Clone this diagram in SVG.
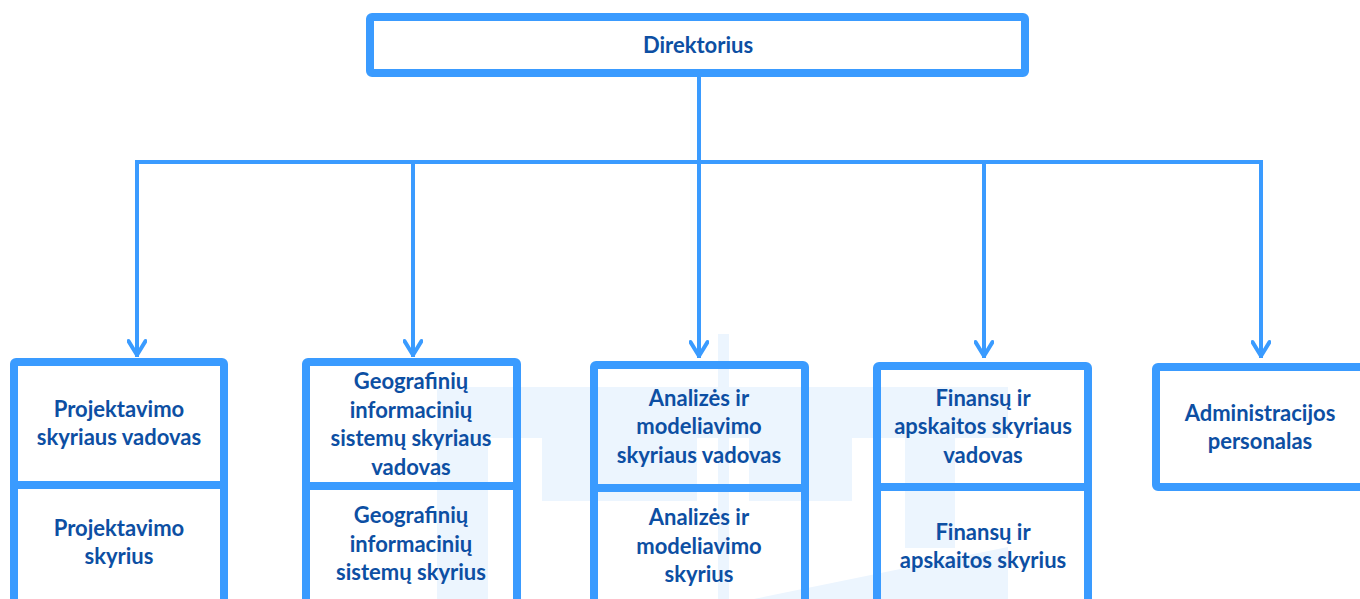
<svg xmlns="http://www.w3.org/2000/svg" width="1360" height="599" viewBox="0 0 1360 599">
<defs>
<style>
.box{fill:none;stroke:#3a9bff;stroke-width:8;stroke-linejoin:round}
.div{stroke:#3a9bff;stroke-width:8}
.wire{fill:none;stroke:#3a9bff;stroke-width:4;stroke-linecap:square}
.wm{fill:#ecf5fe}
text{font-family:Lato,"Open Sans","Liberation Sans",sans-serif;font-weight:700;font-size:22px;fill:#0d4fa3;text-anchor:middle}
</style>
<marker id="arr" viewBox="0 0 20 20" refX="17" refY="10" markerWidth="20" markerHeight="20" markerUnits="userSpaceOnUse" orient="auto">
<path d="M3,1.5 L17,10 L3,18.5" fill="none" stroke="#3a9bff" stroke-width="4" stroke-linecap="round" stroke-linejoin="round"/>
</marker>
</defs>
<rect width="1360" height="599" fill="#ffffff"/>
<g id="watermark">
<rect class="wm" x="437" y="387" width="51" height="212"/>
<rect class="wm" x="437" y="387" width="571" height="51"/>
<rect class="wm" x="542" y="438" width="155" height="63"/>
<rect class="wm" x="749" y="438" width="103" height="63"/>
<rect class="wm" x="905" y="438" width="50" height="110"/>
<rect class="wm" x="718" y="334" width="11" height="265"/>
<polygon class="wm" points="754,599 1008,547 1008,599"/>
</g>
<g id="connectors">
<line class="wire" x1="699" y1="77" x2="699" y2="162"/>
<line class="wire" x1="137" y1="162" x2="1261" y2="162"/>
<path class="wire" d="M137,162 V355" marker-end="url(#arr)"/>
<path class="wire" d="M413,162 V355" marker-end="url(#arr)"/>
<path class="wire" d="M699,162 V356" marker-end="url(#arr)"/>
<path class="wire" d="M984,162 V356" marker-end="url(#arr)"/>
<path class="wire" d="M1261,162 V356" marker-end="url(#arr)"/>
</g>
<g id="direktorius">
<rect class="box" x="370" y="17" width="655" height="56" rx="2"/>
<text x="698" y="53">Direktorius</text>
</g>
<g id="projektavimo">
<rect class="box" x="14" y="362" width="210" height="270" rx="2"/>
<line class="div" x1="14" y1="485" x2="224" y2="485"/>
<text x="119" y="417">Projektavimo</text>
<text x="119" y="445">skyriaus vadovas</text>
<text x="119" y="536">Projektavimo</text>
<text x="119" y="564">skyrius</text>
</g>
<g id="geografiniu">
<rect class="box" x="306" y="362" width="211" height="270" rx="2"/>
<line class="div" x1="306" y1="486" x2="517" y2="486"/>
<text x="411" y="389">Geografinių</text>
<text x="411" y="418">informacinių</text>
<text x="411" y="446">sistemų skyriaus</text>
<text x="411" y="475">vadovas</text>
<text x="411" y="523">Geografinių</text>
<text x="411" y="552">informacinių</text>
<text x="411" y="580">sistemų skyrius</text>
</g>
<g id="analizes">
<rect class="box" x="594" y="365" width="211" height="270" rx="2"/>
<line class="div" x1="594" y1="488" x2="805" y2="488"/>
<text x="699" y="406">Analizės ir</text>
<text x="699" y="434">modeliavimo</text>
<text x="699" y="463">skyriaus vadovas</text>
<text x="699" y="525">Analizės ir</text>
<text x="699" y="554">modeliavimo</text>
<text x="699" y="582">skyrius</text>
</g>
<g id="finansu">
<rect class="box" x="877" y="366" width="211" height="270" rx="2"/>
<line class="div" x1="877" y1="487" x2="1088" y2="487"/>
<text x="983" y="406">Finansų ir</text>
<text x="983" y="434">apskaitos skyriaus</text>
<text x="983" y="463">vadovas</text>
<text x="983" y="540">Finansų ir</text>
<text x="983" y="568">apskaitos skyrius</text>
</g>
<g id="administracijos">
<rect class="box" x="1156" y="367" width="220" height="120" rx="2"/>
<text x="1260" y="421">Administracijos</text>
<text x="1260" y="449">personalas</text>
</g>
</svg>
